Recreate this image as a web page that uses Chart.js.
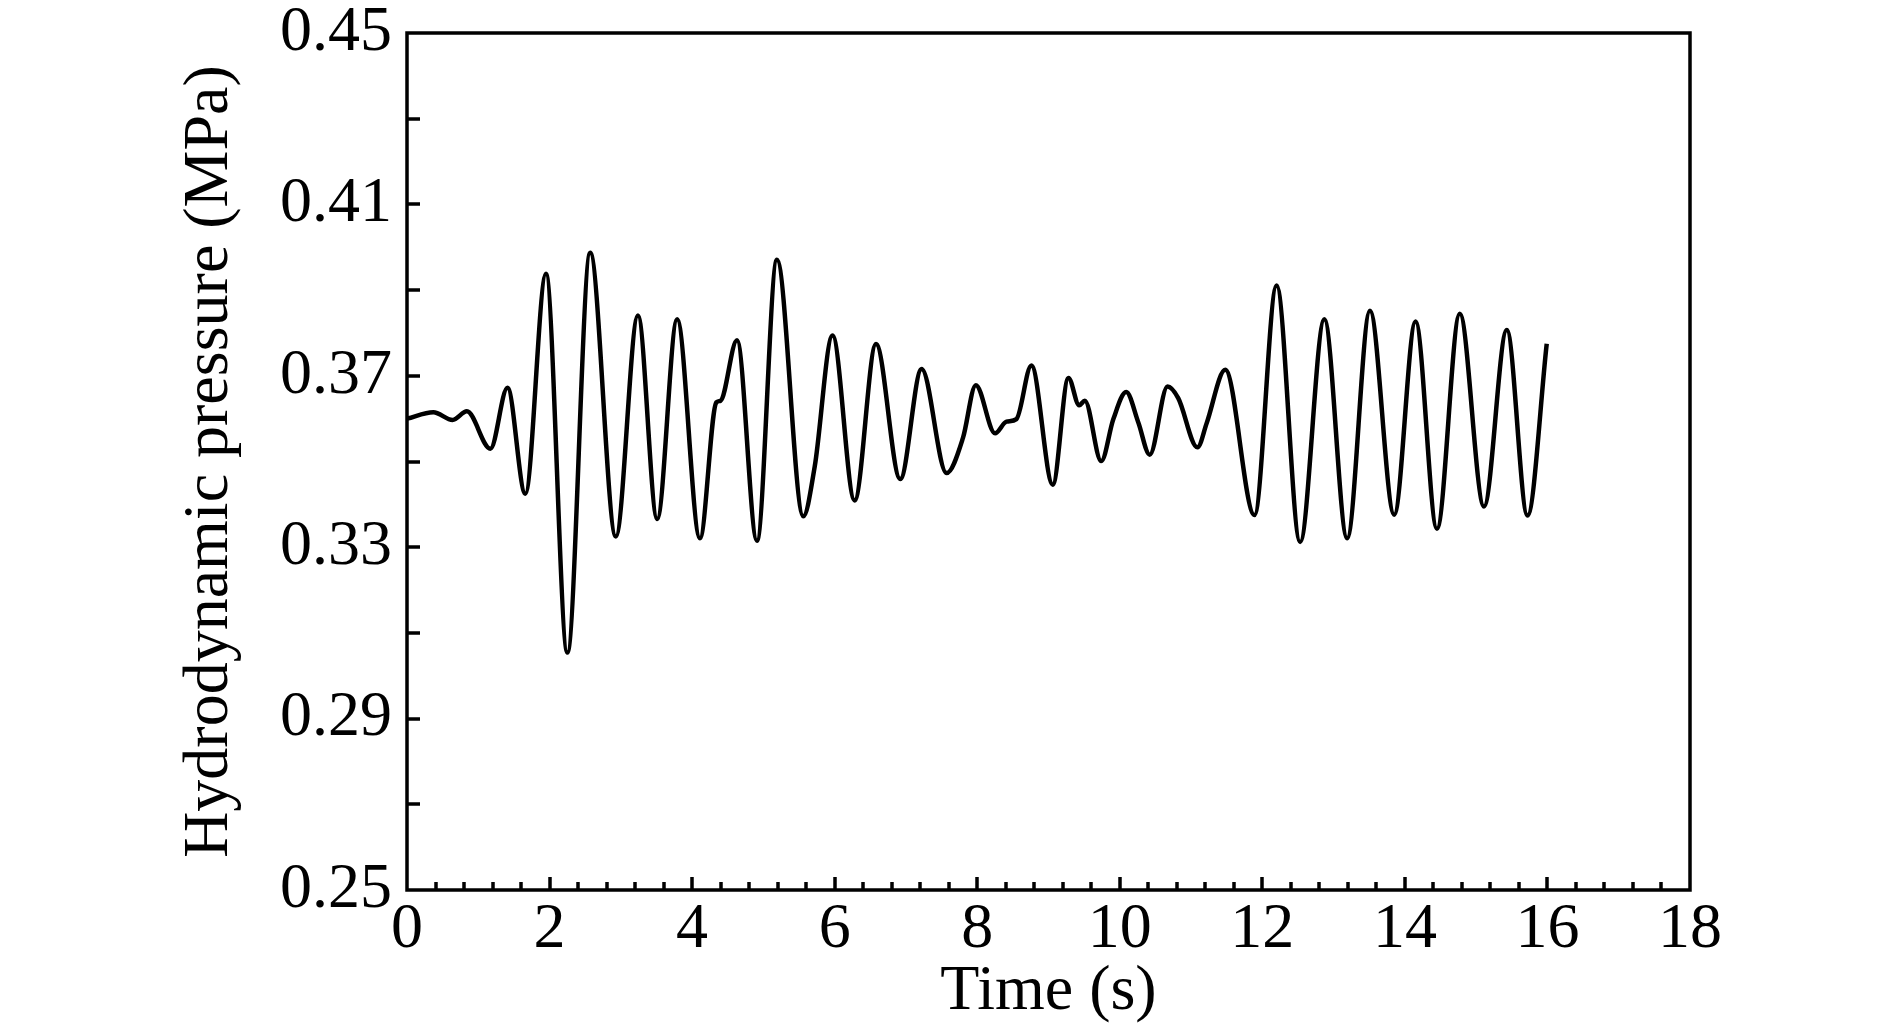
<!DOCTYPE html>
<html>
<head>
<meta charset="utf-8">
<script src="https://cdn.jsdelivr.net/npm/chart.js@4.4.1/dist/chart.umd.min.js"></script>
<style>
  html, body { margin: 0; padding: 0; background: #fff; }
</style>
</head>
<body>
<canvas id="chart" width="1890" height="1032"></canvas>
<script>
// time (s): extrema and a few shoulders
const times = [0, 0.37, 0.64, 0.84, 1.17, 1.41, 1.66, 1.95, 2.25, 2.57,
  2.93, 3.24, 3.51, 3.79, 4.11, 4.34, 4.40, 4.63, 4.91, 5.19,
  5.56, 5.72, 5.97, 6.28, 6.58, 6.92, 7.22, 7.57, 7.80, 7.98,
  8.25, 8.41, 8.55, 8.76, 9.06, 9.28, 9.43, 9.51, 9.74, 9.91,
  10.09, 10.26, 10.42, 10.67, 10.82, 11.09, 11.22, 11.48, 11.89, 12.20,
  12.53, 12.87, 13.19, 13.51, 13.85, 14.15, 14.45, 14.77, 15.11, 15.43,
  15.72, 15.99]

// hydrodynamic pressure (MPa)
const pressure = [0.360, 0.3615, 0.3597, 0.3617, 0.353, 0.3672, 0.3425, 0.3938, 0.3054, 0.3987,
  0.3325, 0.3841, 0.3366, 0.3832, 0.3321, 0.3638, 0.3642, 0.3783, 0.3315, 0.3971,
  0.3372, 0.3488, 0.3794, 0.3409, 0.3774, 0.3459, 0.3716, 0.3473, 0.3555, 0.3678,
  0.3566, 0.3593, 0.3599, 0.3724, 0.3446, 0.3695, 0.3631, 0.3642, 0.3501, 0.3599,
  0.3662, 0.3591, 0.3516, 0.3675, 0.3648, 0.3533, 0.3590, 0.3714, 0.3375, 0.3911,
  0.3312, 0.3832, 0.3321, 0.3852, 0.3376, 0.3827, 0.3343, 0.3845, 0.3395, 0.3807,
  0.3374, 0.3775]

// axis ranges / tick spacing
const xRange = [0, 18]
const xStep = 0.4
const xLabelEvery = 5
const yRange = [0.25, 0.45]
const yStep = 0.02
const yLabelEvery = 2

const FONT = 'Liberation Serif, Times New Roman, serif'

// frame + inward tick marks, like the original plot
const framePlugin = {
  id: 'frame',
  afterDatasetsDraw(chart) {
    const { ctx, chartArea: a, scales } = chart
    ctx.save()
    ctx.strokeStyle = '#000'
    ctx.lineWidth = 3.5
    ctx.lineCap = 'butt'
    ctx.beginPath()
    scales.x.ticks.forEach((t, i) => {
      const px = Math.round(scales.x.getPixelForValue(t.value))
      if (px <= a.left + 1 || px >= a.right - 1) return
      const len = i % xLabelEvery === 0 ? 13 : 8
      ctx.moveTo(px, a.bottom)
      ctx.lineTo(px, a.bottom - len)
    })
    scales.y.ticks.forEach((t) => {
      const py = Math.round(scales.y.getPixelForValue(t.value))
      if (py <= a.top + 1 || py >= a.bottom - 1) return
      ctx.moveTo(a.left, py)
      ctx.lineTo(a.left + 13, py)
    })
    ctx.stroke()
    ctx.strokeRect(a.left, a.top, a.right - a.left, a.bottom - a.top)
    ctx.restore()
  }
}

new Chart(document.getElementById('chart'), {
  type: 'line',
  data: {
    datasets: [{
      data: times.map((t, i) => ({ x: t, y: pressure[i] })),
      borderColor: '#000',
      borderWidth: 4.5,
      pointRadius: 0,
      fill: false,
      cubicInterpolationMode: 'monotone',
    }]
  },
  options: {
    responsive: false,
    animation: false,
    layout: { padding: { left: 0, top: 33, right: 200, bottom: 0 } },
    plugins: { legend: { display: false }, tooltip: { enabled: false } },
    scales: {
      x: {
        type: 'linear',
        min: xRange[0],
        max: xRange[1],
        afterFit: (s) => { s.height = 142 },
        grid: { display: false, drawTicks: false },
        border: { display: false },
        ticks: {
          stepSize: xStep,
          autoSkip: false,
          maxRotation: 0,
          padding: 2,
          color: '#000',
          font: { family: FONT, size: 64 },
          callback: (v, i) => (i % xLabelEvery === 0 ? String(Math.round(v)) : ''),
        },
        title: {
          display: true,
          text: 'Time (s)',
          color: '#000',
          font: { family: FONT, size: 64 },
          padding: { top: 0, bottom: 1 },
        },
      },
      y: {
        type: 'linear',
        min: yRange[0],
        max: yRange[1],
        afterFit: (s) => { s.width = 407 },
        grid: { display: false, drawTicks: false },
        border: { display: false },
        ticks: {
          stepSize: yStep,
          autoSkip: false,
          padding: 15,
          color: '#000',
          // small lineHeight so the top label does not push the plot area down
          font: { family: FONT, size: 64, lineHeight: 0.5 },
          callback: (v, i) => (i % yLabelEvery === 0 ? v.toFixed(2) : ''),
        },
        title: {
          display: true,
          text: 'Hydrodynamic pressure (MPa)',
          color: '#000',
          font: { family: FONT, size: 64 },
          padding: { top: 172, bottom: 0 },
        },
      },
    },
  },
  plugins: [framePlugin],
})
</script>
</body>
</html>
